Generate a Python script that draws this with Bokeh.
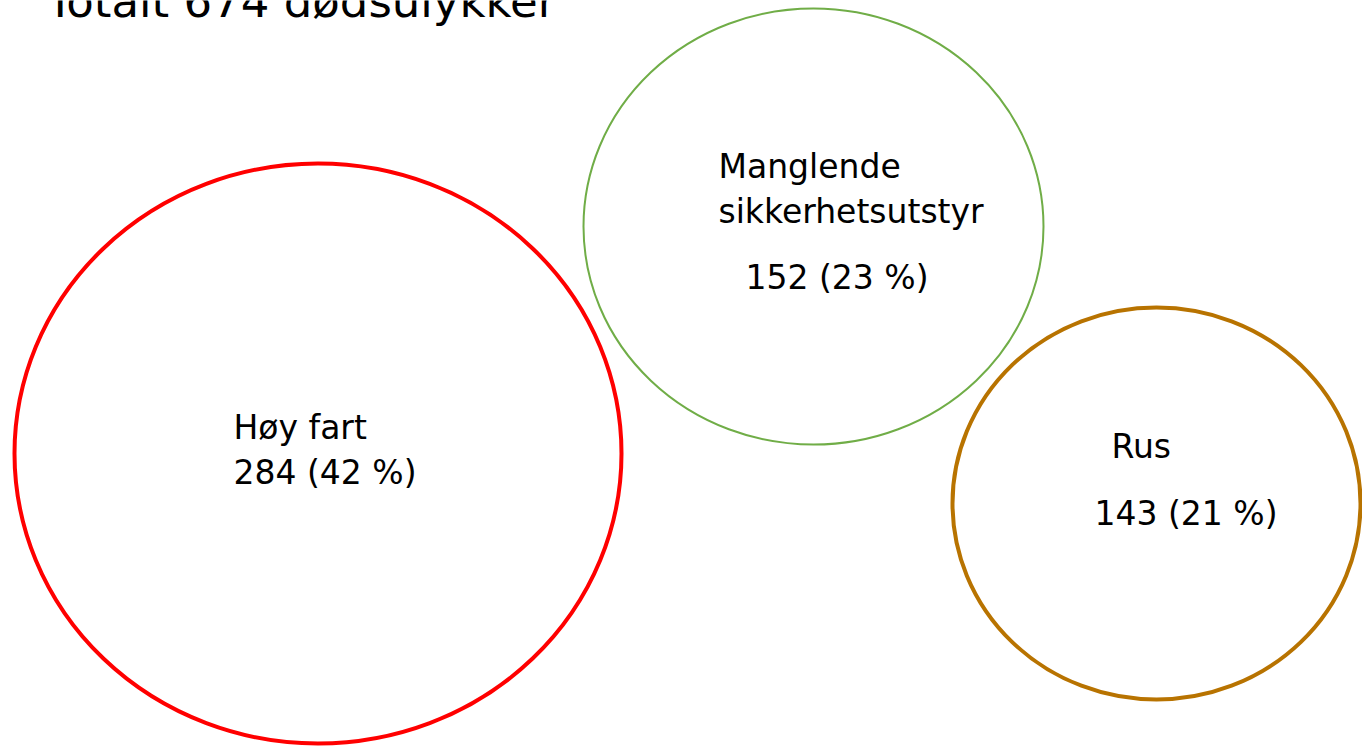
from bokeh.plotting import figure
from bokeh.models import Range1d, ColumnDataSource
from bokeh.core.properties import value
from bokeh.embed import file_html
from bokeh.resources import INLINE

# ---- data ----
title_text = "Totalt 674 dødsulykker"
categories = ["Høy fart", "Manglende\nsikkerhetsutstyr", "Rus"]
counts = [284, 152, 143]
percents = [42, 23, 21]

# ---- layout / style (reference pixel coordinates) ----
colors = ["#FF0000", "#70AD47", "#B87300"]
line_widths = [4, 2, 4]
cx = [317.5, 813, 1156]
cy = [453, 226, 503]
rx = [303.5, 230, 204]
ry = [290, 218, 196]
name_x = [233, 718, 1111]
name_y = [438, 177, 457]      # baselines
value_x = [233, 745, 1094]
value_y = [483, 288, 524]     # baselines
line_gap = 45
FONT = "DejaVu Sans"
FS = 33
BASE_SHIFT = 0.32             # renderer places 'alphabetic' text slightly low

W, H = 1362, 748
p = figure(width=W, height=H, output_backend="svg", toolbar_location=None,
           x_axis_type=None, y_axis_type=None,
           x_range=Range1d(0, W), y_range=Range1d(H, 0),
           min_border=0, outline_line_color=None)
p.xgrid.visible = False
p.ygrid.visible = False
p.background_fill_color = "white"

src = ColumnDataSource(dict(x=cx, y=cy, w=[2 * r for r in rx], h=[2 * r for r in ry],
                            c=colors, lw=line_widths))
p.ellipse(x="x", y="y", width="w", height="h", source=src, fill_color=None,
          line_color="c", line_width="lw")

tx, ty, tt = [], [], []
for i, name in enumerate(categories):
    for j, line in enumerate(name.split("\n")):
        tx.append(name_x[i])
        ty.append(name_y[i] + j * line_gap - BASE_SHIFT * FS)
        tt.append(line)
    tx.append(value_x[i])
    ty.append(value_y[i] - BASE_SHIFT * FS)
    tt.append(f"{counts[i]} ({percents[i]} %)")

p.text(x=tx, y=ty, text=tt, text_font=value(FONT), text_font_size=f"{FS}px",
       text_color="black", text_align="left", text_baseline="alphabetic")

TFS = 45
p.text(x=[46], y=[15 - BASE_SHIFT * TFS], text=[title_text], text_font=value(FONT),
       text_font_size=f"{TFS}px", text_color="black", text_align="left",
       text_baseline="alphabetic")

open("out.html", "w").write(file_html(p, INLINE))
